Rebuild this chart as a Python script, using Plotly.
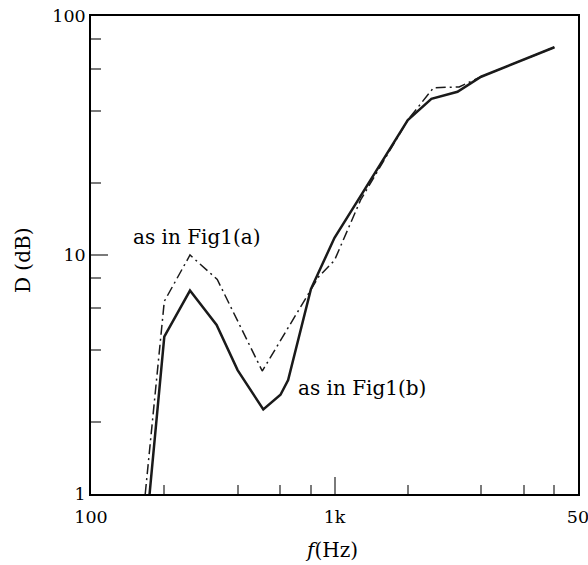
import plotly.graph_objects as go

# Frequency (Hz) and attenuation D (dB) for the two configurations
freq_a = [167, 200, 255, 330, 505, 860, 1000, 1280, 2000, 2550, 3250, 4000, 8000]
d_a = [1.0, 6.4, 10.0, 7.9, 3.27, 8.1, 9.5, 17.0, 36.7, 50.1, 50.5, 55.7, 74]

freq_b = [174, 200, 255, 328, 400, 510, 600, 645, 800, 1000, 1300, 2000, 2500, 3200, 4000, 8000]
d_b = [1.0, 4.55, 7.1, 5.1, 3.3, 2.26, 2.6, 3.0, 7.2, 11.8, 18.1, 36.7, 45.0, 48.2, 55.7, 74]

x_tickvals = [100, 1000, 10000]
x_ticktext = ["100", "1k", "50"]
x_minor = [200, 400, 600, 800, 2000, 4000, 6000, 8000]
y_tickvals = [1, 10, 100]
y_ticktext = ["1", "10", "100"]
y_minor = [2, 4, 6, 8, 20, 40, 60, 80]

label_a = "as in Fig1(a)"
label_b = "as in Fig1(b)"

FONT = "DejaVu Serif"
INK = "#1a1a1a"
TICK = "#7a7a7a"

fig = go.Figure()
fig.add_trace(go.Scatter(
    x=freq_a, y=d_a, mode="lines",
    line=dict(color=INK, width=1.5, dash="10px,4px,2px,4px"),
    showlegend=False,
))
fig.add_trace(go.Scatter(
    x=freq_b, y=d_b, mode="lines",
    line=dict(color=INK, width=2.5),
    showlegend=False,
))

axis_common = dict(
    type="log",
    automargin=False,
    ticklabeloverflow="allow",
    showgrid=False,
    zeroline=False,
    showline=True,
    linecolor="black",
    linewidth=1.5,
    mirror=True,
    ticks="inside",
    ticklen=17,
    tickwidth=1.5,
    tickcolor=TICK,
    tickmode="array",
    tickfont=dict(family=FONT, size=17.5, color="black"),
)

fig.update_xaxes(
    **axis_common,
    range=[2, 4],
    tickvals=x_tickvals,
    ticktext=x_ticktext,
    ticklabelstandoff=6,
    minor=dict(tickvals=x_minor, ticks="inside", ticklen=9, tickwidth=1.5, tickcolor=TICK),
)
fig.update_yaxes(
    **axis_common,
    range=[0, 2],
    tickvals=y_tickvals,
    ticktext=y_ticktext,
    minor=dict(tickvals=y_minor, ticks="inside", ticklen=10, tickwidth=1.5, tickcolor=TICK),
)

annotations = [
    dict(text=label_a, x=0.2177, y=0.5377, xref="paper", yref="paper",
         showarrow=False, xanchor="center", yanchor="middle",
         font=dict(family=FONT, size=20, color="black")),
    dict(text=label_b, x=0.557, y=0.2218, xref="paper", yref="paper",
         showarrow=False, xanchor="center", yanchor="middle",
         font=dict(family=FONT, size=20, color="black")),
    dict(text="D (dB)", x=0, y=0.4895, xref="paper", yref="paper",
         xshift=-68, showarrow=False, textangle=-90,
         xanchor="center", yanchor="middle",
         font=dict(family=FONT, size=20, color="black")),
    dict(text="<i>f</i>(Hz)", x=0.4934, y=0, xref="paper", yref="paper",
         yshift=-56, showarrow=False, xanchor="center", yanchor="middle",
         font=dict(family=FONT, size=20, color="black")),
]

fig.update_layout(
    width=588, height=565,
    margin=dict(l=91, r=10, t=16, b=71),
    paper_bgcolor="white",
    plot_bgcolor="white",
    annotations=annotations,
)

fig.write_html("out.html")
